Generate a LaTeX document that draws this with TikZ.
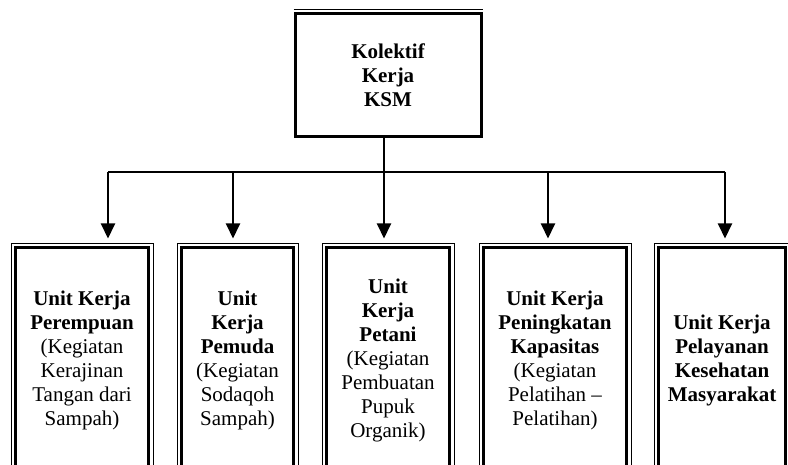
\documentclass[tikz,border=0pt]{standalone}
\usepackage{fontspec}
\setmainfont{Liberation Serif}
\usetikzlibrary{arrows.meta}
\newcommand{\pUnitFrame}[1]{\draw[line width=1pt] ([xshift=-3pt,yshift=3pt]#1.north west) rectangle ([xshift=3pt,yshift=-3pt]#1.south east);}

\begin{document}
\begin{tikzpicture}[x=1pt,y=-1pt,
  kolektif/.style={draw, line width=3pt, inner sep=0pt, align=center, font=\fontsize{21}{24}\selectfont\bfseries, minimum width=186pt, minimum height=123.5pt},
  unit/.style={draw, line width=3pt, inner sep=0pt, align=center, font=\fontsize{21}{24}\selectfont, minimum height=224pt},
  bus/.style={line width=1.5pt},
  arr/.style={line width=2pt, -{Triangle[width=14pt,length=15pt]}, shorten >=8pt}]
\useasboundingbox (0,0) rectangle (788,465);
\node[kolektif] (ksm) at (388,75.25) {Kolektif\\Kerja\\KSM};
\draw[line width=1pt] ([yshift=2.5pt]ksm.north west) -- ([yshift=2.5pt]ksm.north east);
\node[unit, minimum width=133pt] (perempuan) at (82,360) {\textbf{Unit Kerja}\\\textbf{Perempuan}\\(Kegiatan\\Kerajinan\\Tangan dari\\Sampah)};
\node[unit, minimum width=112pt] (pemuda) at (237.5,360) {\textbf{Unit}\\\textbf{Kerja}\\\textbf{Pemuda}\\(Kegiatan\\Sodaqoh\\Sampah)};
\node[unit, minimum width=123pt] (petani) at (388,360) {\textbf{Unit}\\\textbf{Kerja}\\\textbf{Petani}\\(Kegiatan\\Pembuatan\\Pupuk\\Organik)};
\node[unit, minimum width=143pt] (kapasitas) at (555,360) {\textbf{Unit Kerja}\\\textbf{Peningkatan}\\\textbf{Kapasitas}\\(Kegiatan\\Pelatihan --\\Pelatihan)};
\node[unit, minimum width=127pt] (kesehatan) at (722,360) {\textbf{Unit Kerja}\\\textbf{Pelayanan}\\\textbf{Kesehatan}\\\textbf{Masyarakat}};
\pUnitFrame{perempuan}
\pUnitFrame{pemuda}
\pUnitFrame{petani}
\pUnitFrame{kapasitas}
\pUnitFrame{kesehatan}
\coordinate (b1) at (108,172);
\coordinate (b2) at (233,172);
\coordinate (b3) at (384,172);
\coordinate (b4) at (548,172);
\coordinate (b5) at (725,172);
\draw[bus] (b1) -- (b5);
\draw[arr] (b3 |- ksm.south) -- (b3 |- petani.north);
\draw[arr] (b1) -- (b1 |- perempuan.north);
\draw[arr] (b2) -- (b2 |- pemuda.north);
\draw[arr] (b4) -- (b4 |- kapasitas.north);
\draw[arr] (b5) -- (b5 |- kesehatan.north);
\end{tikzpicture}
\end{document}
